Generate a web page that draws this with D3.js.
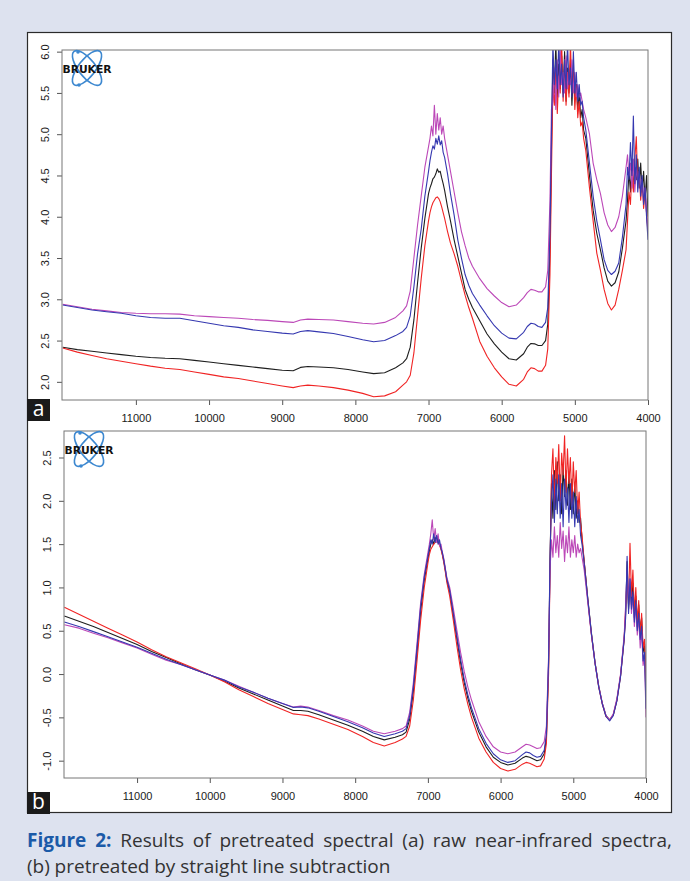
<!DOCTYPE html>
<html>
<head>
<meta charset="utf-8">
<script src="https://cdn.jsdelivr.net/npm/d3@7"></script>
<style>
    html, body { margin: 0; padding: 0; background: #dde2ef; }
    svg { display: block; }
</style>
</head>
<body>
<svg id="fig" width="690" height="881"></svg>
<script>
// Wavenumber grid (cm-1), shared by every spectrum; denser where the traces are noisy
var wavenumbers = [
    12000, 11800, 11600, 11400, 11200, 11000, 10800, 10600, 10400, 10200, 10000, 9800, 9600, 9400, 9200, 9000, 8850, 8750, 8650, 8500, 8300, 8100, 7900, 7750, 7600, 7450, 7350, 7300, 7250, 7200, 7150, 7100, 7050, 7000,
    6980, 6960, 6940, 6920, 6900, 6880, 6860, 6840, 6820, 6800, 6780, 6760, 6740,
    6700, 6650, 6600, 6550, 6500, 6450, 6400, 6300, 6200, 6100, 6000, 5900, 5800, 5700, 5650, 5600, 5550, 5500, 5450, 5400, 5370, 5340, 5320,
    5300, 5280, 5260, 5240, 5220, 5200, 5180, 5160, 5140, 5120, 5100, 5080, 5060, 5040, 5020, 5000, 4980, 4960, 4940, 4920, 4900, 4880,
    4850, 4800, 4750, 4700, 4650, 4600, 4550, 4500, 4450, 4400, 4350, 4300,
    4280, 4260, 4240, 4220, 4200, 4180, 4160, 4140, 4120, 4100, 4080, 4060, 4040, 4020, 4000
];

// Panel a: raw spectra
var rawBlack = [
    2.42, 2.39, 2.37, 2.35, 2.33, 2.31, 2.295, 2.285, 2.28, 2.26, 2.24, 2.22, 2.20, 2.18, 2.16, 2.14, 2.135, 2.175, 2.185, 2.18, 2.17, 2.15, 2.12, 2.10, 2.11, 2.17, 2.23, 2.28, 2.42, 2.75, 3.20, 3.62, 3.98, 4.28,
    4.35, 4.40, 4.46, 4.48, 4.52, 4.58, 4.54, 4.55, 4.47, 4.40, 4.32, 4.22, 4.12,
    3.95, 3.72, 3.52, 3.32, 3.12, 3.00, 2.90, 2.74, 2.58, 2.46, 2.36, 2.28, 2.265, 2.34, 2.42, 2.465, 2.46, 2.44, 2.44, 2.50, 2.70, 3.60, 4.80,
    5.9, 5.5, 6.1, 5.45, 5.85, 5.55, 5.95, 5.5, 6.0, 5.4, 5.8, 5.5, 5.9, 5.35, 5.75, 5.45, 5.6, 5.3, 5.5, 5.2, 5.3, 5.05,
    4.95, 4.5, 4.08, 3.8, 3.6, 3.38, 3.22, 3.16, 3.2, 3.33, 3.62, 3.95,
    4.2, 4.55, 4.3, 4.7, 4.35, 4.6, 4.45, 4.7, 4.35, 4.65, 4.3, 4.55, 4.2, 4.5, 4.0
];
var rawRed = [
    2.41, 2.36, 2.32, 2.28, 2.25, 2.22, 2.19, 2.165, 2.15, 2.12, 2.09, 2.06, 2.04, 2.01, 1.98, 1.95, 1.93, 1.95, 1.96, 1.95, 1.93, 1.90, 1.86, 1.82, 1.83, 1.88, 1.96, 2.00, 2.08, 2.35, 2.80, 3.25, 3.65, 3.95,
    4.05, 4.12, 4.17, 4.20, 4.23, 4.24, 4.22, 4.18, 4.12, 4.05, 3.98, 3.90, 3.82,
    3.68, 3.55, 3.40, 3.22, 3.05, 2.90, 2.77, 2.49, 2.31, 2.17, 2.06, 1.97, 1.95, 2.03, 2.12, 2.17, 2.16, 2.13, 2.13, 2.20, 2.40, 3.30, 4.50,
    5.6, 5.35, 5.8, 5.25, 5.7, 5.5, 6.1, 5.4, 5.9, 5.35, 5.75, 5.45, 6.1, 5.5, 5.8, 5.3, 5.6, 5.2, 5.4, 5.1, 5.15, 4.95,
    4.8, 4.35, 3.95, 3.56, 3.35, 3.12, 2.95, 2.87, 2.93, 3.12, 3.35, 3.6,
    3.95, 4.3, 4.15, 4.55, 4.3, 4.7, 4.97, 4.4, 4.55, 4.2, 4.45, 4.1, 4.3, 4.05, 3.8
];
var rawBlue = [
    2.93, 2.90, 2.87, 2.85, 2.83, 2.80, 2.78, 2.77, 2.77, 2.74, 2.71, 2.68, 2.66, 2.63, 2.61, 2.59, 2.58, 2.61, 2.62, 2.605, 2.585, 2.55, 2.51, 2.485, 2.50, 2.56, 2.61, 2.66, 2.80, 3.15, 3.55, 3.85, 4.25, 4.55,
    4.68, 4.78, 4.86, 4.82, 4.95, 4.88, 4.98, 4.87, 4.92, 4.78, 4.72, 4.62, 4.52,
    4.28, 4.02, 3.72, 3.50, 3.30, 3.17, 3.07, 2.93, 2.80, 2.68, 2.59, 2.53, 2.52, 2.60, 2.67, 2.71, 2.70, 2.67, 2.66, 2.72, 2.90, 3.80, 5.00,
    6.1, 5.6, 5.9, 5.55, 6.1, 5.6, 5.85, 5.45, 5.9, 5.55, 6.1, 5.6, 5.8, 5.45, 6.0, 5.5, 5.75, 5.4, 5.6, 5.35, 5.4, 5.2,
    5.05, 4.65, 4.25, 3.95, 3.72, 3.48, 3.35, 3.30, 3.34, 3.44, 3.75, 4.15,
    4.6, 4.45, 4.9, 4.5, 5.22, 4.4, 4.75, 4.3, 4.6, 4.25, 4.5, 4.15, 4.35, 4.0, 3.72
];
var rawMagenta = [
    2.94, 2.91, 2.88, 2.86, 2.84, 2.83, 2.825, 2.825, 2.82, 2.80, 2.79, 2.78, 2.77, 2.755, 2.745, 2.73, 2.72, 2.75, 2.76, 2.755, 2.75, 2.73, 2.71, 2.70, 2.72, 2.78, 2.86, 2.92, 3.10, 3.50, 3.90, 4.25, 4.60, 4.85,
    4.95, 5.10, 4.98, 5.35, 5.00, 5.25, 5.05, 5.20, 5.00, 5.10, 4.95, 4.85, 4.75,
    4.55, 4.30, 4.05, 3.82, 3.65, 3.50, 3.40, 3.25, 3.13, 3.04, 2.96, 2.91, 2.93, 3.02, 3.08, 3.12, 3.11, 3.09, 3.09, 3.15, 3.35, 4.20, 5.30,
    5.4, 5.8, 5.3, 5.9, 5.45, 6.05, 5.6, 5.75, 5.5, 5.95, 5.55, 5.7, 5.6, 5.9, 5.5, 5.75, 5.45, 5.6, 5.45, 5.5, 5.4, 5.3,
    5.2, 5.0, 4.65, 4.45, 4.28, 4.05, 3.9, 3.82, 3.87, 4.0, 4.25, 4.6,
    4.75, 4.5, 4.65, 4.35, 4.7, 4.3, 4.6, 4.4, 4.55, 4.3, 4.45, 4.2, 4.35, 4.05, 3.85
];

// Panel b: after straight line subtraction
var slsBlack = [
    0.67, 0.61, 0.55, 0.48, 0.41, 0.34, 0.26, 0.19, 0.12, 0.05, -0.01, -0.08, -0.16, -0.23, -0.30, -0.37, -0.42, -0.42, -0.43, -0.47, -0.53, -0.59, -0.66, -0.72, -0.76, -0.73, -0.70, -0.67, -0.52, -0.20, 0.25, 0.72, 1.08, 1.33,
    1.42, 1.50, 1.55, 1.50, 1.58, 1.53, 1.57, 1.50, 1.46, 1.38, 1.30, 1.20, 1.09,
    0.95, 0.68, 0.40, 0.13, -0.10, -0.28, -0.43, -0.67, -0.84, -0.96, -1.02, -1.05, -1.03, -0.97, -0.95, -0.96, -0.98, -1.00, -0.99, -0.92, -0.74, 0.10, 1.30,
    2.2, 1.8, 2.35, 1.9, 2.45, 2.0, 2.3, 1.85, 2.4, 2.05, 2.35, 1.95, 2.3, 1.9, 2.25, 1.85, 2.2, 1.8, 2.0, 1.75, 1.8, 1.55,
    1.3, 0.87, 0.47, 0.13, -0.14, -0.34, -0.48, -0.53, -0.47, -0.30, -0.02, 0.42,
    0.7, 1.3, 0.75, 1.0, 0.8, 1.05, 0.65, 0.9, 0.55, 0.8, 0.5, 0.65, 0.25, 0.35, -0.3
];
var slsRed = [
    0.77, 0.69, 0.61, 0.53, 0.45, 0.37, 0.28, 0.20, 0.13, 0.06, -0.01, -0.09, -0.18, -0.26, -0.34, -0.41, -0.46, -0.47, -0.48, -0.52, -0.58, -0.64, -0.72, -0.79, -0.83, -0.79, -0.75, -0.72, -0.60, -0.30, 0.15, 0.62, 1.00, 1.28,
    1.38, 1.44, 1.47, 1.50, 1.52, 1.53, 1.52, 1.49, 1.44, 1.37, 1.28, 1.18, 1.06,
    0.90, 0.62, 0.32, 0.05, -0.17, -0.35, -0.50, -0.74, -0.90, -1.02, -1.09, -1.12, -1.10, -1.04, -1.02, -1.03, -1.05, -1.07, -1.06, -0.98, -0.80, 0.00, 1.20,
    2.3, 2.6, 1.95, 2.5, 2.2, 2.65, 2.0, 2.55, 2.3, 2.75, 2.1, 2.6, 2.2, 2.5, 1.95, 2.45, 2.1, 2.35, 1.85, 2.1, 1.75, 1.6,
    1.3, 0.85, 0.45, 0.12, -0.15, -0.35, -0.49, -0.53, -0.47, -0.30, -0.02, 0.40,
    0.75, 1.1, 0.8, 1.51, 0.9, 1.2, 0.7, 1.0, 0.6, 0.85, 0.45, 0.7, 0.3, 0.4, -0.2
];
var slsBlue = [
    0.60, 0.55, 0.49, 0.43, 0.37, 0.31, 0.24, 0.17, 0.11, 0.05, -0.01, -0.07, -0.15, -0.21, -0.28, -0.34, -0.385, -0.38, -0.39, -0.43, -0.49, -0.55, -0.62, -0.68, -0.72, -0.69, -0.66, -0.63, -0.48, -0.15, 0.30, 0.78, 1.12, 1.36,
    1.45, 1.55, 1.50, 1.62, 1.52, 1.60, 1.50, 1.55, 1.45, 1.40, 1.31, 1.21, 1.10,
    0.97, 0.70, 0.43, 0.17, -0.06, -0.24, -0.39, -0.63, -0.80, -0.92, -0.99, -1.02, -1.00, -0.93, -0.90, -0.91, -0.94, -0.96, -0.95, -0.88, -0.70, 0.15, 1.35,
    2.0, 2.3, 1.75, 2.25, 1.85, 2.3, 1.8, 2.2, 1.7, 2.25, 1.9, 2.15, 1.75, 2.2, 1.8, 2.1, 1.7, 2.05, 1.75, 1.9, 1.6, 1.5,
    1.28, 0.86, 0.46, 0.12, -0.15, -0.35, -0.49, -0.54, -0.48, -0.31, -0.03, 0.40,
    0.65, 1.36, 0.7, 1.1, 0.75, 0.95, 0.6, 0.85, 0.5, 0.7, 0.4, 0.55, 0.15, 0.25, -0.4
];
var slsMagenta = [
    0.57, 0.53, 0.47, 0.42, 0.36, 0.30, 0.23, 0.16, 0.11, 0.05, -0.01, -0.07, -0.14, -0.21, -0.28, -0.34, -0.38, -0.37, -0.38, -0.42, -0.48, -0.53, -0.60, -0.66, -0.69, -0.66, -0.63, -0.60, -0.44, -0.10, 0.35, 0.82, 1.15, 1.40,
    1.50, 1.62, 1.78, 1.55, 1.68, 1.52, 1.62, 1.48, 1.50, 1.40, 1.33, 1.22, 1.12,
    1.00, 0.76, 0.50, 0.25, 0.03, -0.15, -0.30, -0.55, -0.72, -0.84, -0.90, -0.92, -0.90, -0.84, -0.81, -0.82, -0.84, -0.86, -0.85, -0.78, -0.60, 0.20, 1.20,
    1.55, 1.35, 1.7, 1.4, 1.6, 1.35, 1.75, 1.45, 1.65, 1.3, 1.6, 1.4, 1.7, 1.35, 1.55, 1.4, 1.6, 1.35, 1.5, 1.4, 1.45, 1.35,
    1.2, 0.82, 0.45, 0.12, -0.14, -0.34, -0.48, -0.53, -0.46, -0.28, 0.00, 0.45,
    0.8, 1.2, 0.85, 1.1, 0.7, 0.9, 0.55, 0.8, 0.45, 0.65, 0.3, 0.5, 0.1, 0.2, -0.5
];

var xTicks = [11000, 10000, 9000, 8000, 7000, 6000, 5000, 4000];
var yTicksA = [2.0, 2.5, 3.0, 3.5, 4.0, 4.5, 5.0, 5.5, 6.0];
var yTicksB = [-1.0, -0.5, 0.0, 0.5, 1.0, 1.5, 2.0, 2.5];

var seriesColors = { black: '#1e1e1e', red: '#f02424', magenta: '#bc48b8', blue: '#3538b0' };

var svg = d3.select('#fig');

// white figure panel
svg.append('rect')
    .attr('x', 27.5).attr('y', 32.5)
    .attr('width', 644).attr('height', 780)
    .attr('fill', '#fff')
    .attr('stroke', '#2b2b2b')
    .attr('stroke-width', 1.2);

/**
 * Draw one spectra panel (box, axes, logo, traces, corner label)
 */
function drawPanel(cfg) {
    var x = d3.scaleLinear().domain(cfg.xDomain).range([cfg.left, cfg.right]);
    var y = d3.scaleLinear().domain(cfg.yDomain).range([cfg.bottom, cfg.top]);
    var g = svg.append('g');

    g.append('clipPath').attr('id', cfg.id + '-clip')
        .append('rect')
        .attr('x', cfg.left).attr('y', cfg.top)
        .attr('width', cfg.right - cfg.left).attr('height', cfg.bottom - cfg.top);

    // y axis, labels turned parallel to the axis like R does
    var yAxis = g.append('g')
        .attr('transform', 'translate(' + cfg.left + ',0)')
        .call(d3.axisLeft(y).tickValues(cfg.yTicks).tickSize(5)
            .tickFormat(function(d) { return d.toFixed(1); }));
    yAxis.select('.domain').remove();
    yAxis.selectAll('line').attr('stroke', '#555');
    yAxis.selectAll('text')
        .attr('transform', 'rotate(-90)')
        .attr('x', 0).attr('y', -cfg.yLabelOff).attr('dy', '0.35em')
        .attr('text-anchor', 'middle')
        .attr('fill', '#1a1a1a')
        .style('font', '11px "Liberation Sans", Arial, sans-serif');

    var xAxis = g.append('g')
        .attr('transform', 'translate(0,' + cfg.bottom + ')')
        .call(d3.axisBottom(x).tickValues(xTicks).tickSize(5).tickPadding(9)
            .tickFormat(d3.format('d')));
    xAxis.select('.domain').remove();
    xAxis.selectAll('line').attr('stroke', '#555');
    xAxis.selectAll('text')
        .attr('fill', '#1a1a1a')
        .style('font', '11px "Liberation Sans", Arial, sans-serif');

    // traces
    var line = d3.line()
        .x(function(d) { return x(d[0]); })
        .y(function(d) { return y(d[1]); });

    var traces = g.append('g').attr('clip-path', 'url(#' + cfg.id + '-clip)');
    cfg.series.forEach(function(s) {
        traces.append('path')
            .datum(d3.zip(wavenumbers, s.values))
            .attr('d', line)
            .attr('fill', 'none')
            .attr('stroke', seriesColors[s.color])
            .attr('stroke-width', 1.1)
            .attr('stroke-linejoin', 'round');
    });

    // plot box
    g.append('rect')
        .attr('x', cfg.left).attr('y', cfg.top)
        .attr('width', cfg.right - cfg.left).attr('height', cfg.bottom - cfg.top)
        .attr('fill', 'none')
        .attr('stroke', '#777')
        .attr('stroke-width', 1);

    drawLogo(g, cfg.left + 25, cfg.top + 18);

    // corner label
    g.append('rect')
        .attr('x', 27).attr('y', cfg.labelY)
        .attr('width', 23).attr('height', 22)
        .attr('fill', '#1a1a1a');
    g.append('text')
        .attr('x', 38.5).attr('y', cfg.labelY + 17)
        .attr('text-anchor', 'middle')
        .attr('fill', '#fff')
        .style('font', '21px "Open Sans", "Liberation Sans", sans-serif')
        .text(cfg.label);
}

/**
 * Bruker atom logo in the top-left corner of each plot
 */
function drawLogo(g, cx, cy) {
    var logo = g.append('g').attr('transform', 'translate(' + cx + ',' + cy + ')');
    [-52, 52].forEach(function(a) {
        logo.append('ellipse')
            .attr('rx', 21).attr('ry', 8.5)
            .attr('transform', 'rotate(' + a + ')')
            .attr('fill', 'none')
            .attr('stroke', '#3d88d0')
            .attr('stroke-width', 1.6);
    });
    [[-9, -16], [-8, 17]].forEach(function(p) {
        logo.append('circle').attr('cx', p[0]).attr('cy', p[1]).attr('r', 1.8).attr('fill', '#3d88d0');
    });
    logo.append('text')
        .attr('x', 0).attr('y', 4.5)
        .attr('text-anchor', 'middle')
        .attr('textLength', 49)
        .attr('lengthAdjust', 'spacingAndGlyphs')
        .attr('fill', '#111')
        .style('font', 'bold 11px "DejaVu Sans", sans-serif')
        .text('BRUKER');
}

drawPanel({
    id: 'pa', left: 62, right: 648, top: 50, bottom: 400,
    xDomain: [12010, 4000], yDomain: [1.78, 6.02], yTicks: yTicksA, yLabelOff: 17,
    label: 'a', labelY: 399,
    series: [
        { color: 'black', values: rawBlack },
        { color: 'red', values: rawRed },
        { color: 'magenta', values: rawMagenta },
        { color: 'blue', values: rawBlue }
    ]
});

drawPanel({
    id: 'pb', left: 64, right: 646, top: 431, bottom: 778,
    xDomain: [12005, 4000], yDomain: [-1.20, 2.806], yTicks: yTicksB, yLabelOff: 17,
    label: 'b', labelY: 792,
    series: [
        { color: 'black', values: slsBlack },
        { color: 'red', values: slsRed },
        { color: 'magenta', values: slsMagenta },
        { color: 'blue', values: slsBlue }
    ]
});

// caption, first line justified to the panel width
var captionLines = [
    { justify: true, words: [['Figure', 1], ['2:', 1], ['Results', 0], ['of', 0], ['pretreated', 0], ['spectral', 0], ['(a)', 0], ['raw', 0], ['near-infrared', 0], ['spectra,', 0]] },
    { justify: false, words: [['(b)', 0], ['pretreated', 0], ['by', 0], ['straight', 0], ['line', 0], ['subtraction', 0]] }
];

function drawCaptionLine(lineDef, y) {
    var x0 = 27, x1 = 672, fs = 19;
    var nodes = lineDef.words.map(function(w) {
        return svg.append('text')
            .attr('y', y)
            .attr('fill', w[1] ? '#1b5aa8' : '#333')
            .style('font', (w[1] ? '700 ' : '400 ') + fs + 'px "Open Sans", "Noto Sans", sans-serif')
            .text(w[0]);
    });
    var widths = nodes.map(function(n) { return n.node().getComputedTextLength(); });
    var gap = lineDef.justify ? (x1 - x0 - d3.sum(widths)) / (nodes.length - 1) : fs * 0.25;
    var cx = x0;
    nodes.forEach(function(n, i) {
        n.attr('x', cx);
        cx += widths[i] + gap;
    });
}

drawCaptionLine(captionLines[0], 847);
drawCaptionLine(captionLines[1], 873);
</script>
</body>
</html>
